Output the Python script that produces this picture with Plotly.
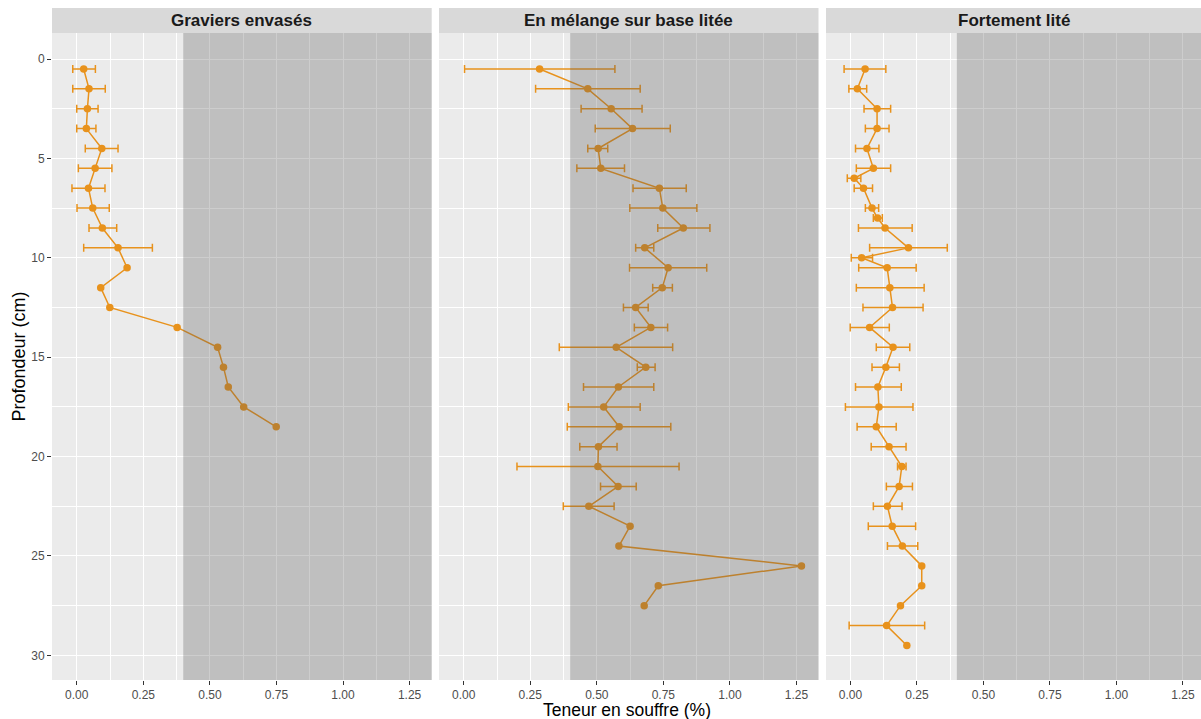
import plotly.graph_objects as go

panels = ["Graviers envasés", "En mélange sur base litée", "Fortement lité"]

depth_p1 = [0.5, 1.5, 2.5, 3.5, 4.5, 5.5, 6.5, 7.5, 8.5, 9.5, 10.5, 11.5, 12.5, 13.5, 14.5, 15.5, 16.5, 17.5, 18.5]
sulfur_p1 = [0.026, 0.046, 0.040, 0.036, 0.094, 0.069, 0.044, 0.060, 0.096, 0.155, 0.189, 0.090, 0.124, 0.377, 0.529, 0.551, 0.569, 0.627, 0.749]
low_p1 = [-0.015, -0.015, 0.0, 0.0, 0.032, 0.006, -0.018, 0.001, 0.046, 0.026, None, None, None, None, None, None, None, None, None]
high_p1 = [0.070, 0.107, 0.080, 0.072, 0.155, 0.132, 0.106, 0.122, 0.150, 0.284, None, None, None, None, None, None, None, None, None]

depth_p2 = [0.5, 1.5, 2.5, 3.5, 4.5, 5.5, 6.5, 7.5, 8.5, 9.5, 10.5, 11.5, 12.5, 13.5, 14.5, 15.5, 16.5, 17.5, 18.5, 19.5, 20.5, 21.5, 22.5, 23.5, 24.5, 25.5, 26.5, 27.5]
sulfur_p2 = [0.285, 0.466, 0.554, 0.634, 0.505, 0.515, 0.735, 0.748, 0.825, 0.680, 0.768, 0.746, 0.646, 0.703, 0.573, 0.684, 0.581, 0.526, 0.584, 0.506, 0.504, 0.580, 0.470, 0.625, 0.583, 1.269, 0.731, 0.678]
low_p2 = [0.003, 0.270, 0.441, 0.494, 0.466, 0.425, 0.636, 0.624, 0.729, 0.646, 0.623, 0.710, 0.600, 0.641, 0.359, 0.652, 0.450, 0.393, 0.389, 0.436, 0.200, 0.514, 0.374, None, None, None, None, None]
high_p2 = [0.568, 0.663, 0.670, 0.776, 0.541, 0.604, 0.836, 0.876, 0.925, 0.714, 0.913, 0.784, 0.693, 0.766, 0.785, 0.719, 0.714, 0.663, 0.778, 0.576, 0.809, 0.648, 0.565, None, None, None, None, None]

depth_p3 = [0.5, 1.5, 2.5, 3.5, 4.5, 5.5, 6.0, 6.5, 7.5, 8.0, 8.5, 9.5, 10.0, 10.5, 11.5, 12.5, 13.5, 14.5, 15.5, 16.5, 17.5, 18.5, 19.5, 20.5, 21.5, 22.5, 23.5, 24.5, 25.5, 26.5, 27.5, 28.5, 29.5]
sulfur_p3 = [0.055, 0.026, 0.100, 0.100, 0.062, 0.086, 0.014, 0.049, 0.081, 0.102, 0.130, 0.218, 0.042, 0.138, 0.148, 0.158, 0.072, 0.160, 0.133, 0.103, 0.107, 0.097, 0.145, 0.193, 0.183, 0.139, 0.157, 0.195, 0.268, 0.268, 0.188, 0.136, 0.212]
low_p3 = [-0.024, -0.006, 0.051, 0.056, 0.019, 0.022, -0.012, 0.014, 0.056, 0.086, 0.030, 0.072, 0.003, 0.031, 0.022, 0.047, -0.001, 0.097, 0.081, 0.019, -0.019, 0.025, 0.078, 0.177, 0.135, 0.086, 0.067, 0.139, None, None, None, -0.005, None]
high_p3 = [0.133, 0.061, 0.151, 0.145, 0.107, 0.151, 0.039, 0.083, 0.106, 0.120, 0.232, 0.364, 0.083, 0.247, 0.277, 0.273, 0.146, 0.223, 0.184, 0.191, 0.235, 0.172, 0.209, 0.209, 0.233, 0.194, 0.245, 0.253, None, None, None, 0.279, None]

x_ticks = [0.0, 0.25, 0.5, 0.75, 1.0, 1.25]
y_ticks = [0, 5, 10, 15, 20, 25, 30]
threshold = 0.4

series = [
    (depth_p1, sulfur_p1, low_p1, high_p1),
    (depth_p2, sulfur_p2, low_p2, high_p2),
    (depth_p3, sulfur_p3, low_p3, high_p3),
]

ORANGE = "#E8921C"
W, H = 1201, 719
ML, MR, MT, MB = 52, 0, 33, 39
PW = W - ML - MR
PH = H - MT - MB
def fx(px):
    return (px - ML) / PW

domains = [[fx(52), fx(431.7)], [fx(439), fx(818.5)], [fx(826), 1.0]]
xranges = [[-0.093, 1.333], [-0.093, 1.333], [-0.092, 1.318]]

fig = go.Figure()

for i, (d, s, lo, hi) in enumerate(series):
    xa = "x" if i == 0 else f"x{i+1}"
    ya = "y" if i == 0 else f"y{i+1}"
    ed, es, eplus, eminus = [], [], [], []
    for dd, ss, l, h in zip(d, s, lo, hi):
        if l is not None and h is not None:
            ed.append(dd); es.append(ss)
            eplus.append(h - ss); eminus.append(ss - l)
    fig.add_trace(go.Scatter(
        x=es, y=ed, mode="markers", xaxis=xa, yaxis=ya,
        marker=dict(size=1, color="rgba(0,0,0,0)"),
        error_x=dict(type="data", symmetric=False, array=eplus, arrayminus=eminus,
                     color=ORANGE, thickness=1.5, width=4),
        showlegend=False, hoverinfo="skip"))
    fig.add_trace(go.Scatter(
        x=s, y=d, mode="lines+markers", xaxis=xa, yaxis=ya,
        line=dict(color=ORANGE, width=1.5),
        marker=dict(color=ORANGE, size=7.5),
        showlegend=False))

    axis_x = dict(domain=domains[i], range=xranges[i], tickvals=x_ticks, tickformat=".2f",
                  showgrid=True, gridcolor="white", gridwidth=1.1, zeroline=False,
                  ticks="outside", ticklen=3.5, tickcolor="#333333", tickwidth=1,
                  tickfont=dict(family="Liberation Sans, Arial", size=12, color="#4D4D4D"),
                  minor=dict(dtick=0.125, tick0=0.125, showgrid=True, gridcolor="white", gridwidth=0.5, ticks=""),
                  anchor=ya, showline=False)
    axis_y = dict(domain=[0, 1], range=[31.24, -1.31], tickvals=y_ticks,
                  showgrid=True, gridcolor="white", gridwidth=1.1, zeroline=False,
                  minor=dict(dtick=2.5, tick0=2.5, showgrid=True, gridcolor="white", gridwidth=0.5, ticks=""),
                  anchor=xa, showline=False,
                  ticks="outside" if i == 0 else "", ticklen=4, tickcolor="#333333",
                  showticklabels=(i == 0),
                  tickfont=dict(family="Liberation Sans, Arial", size=12, color="#4D4D4D"))
    if i == 0:
        fig.update_layout(xaxis=axis_x, yaxis=axis_y)
    else:
        fig.update_layout(**{f"xaxis{i+1}": axis_x, f"yaxis{i+1}": axis_y})

    # shaded region above the threshold
    fig.add_shape(type="rect", xref=xa, yref=f"{ya} domain", x0=threshold, x1=2.0, y0=0, y1=1,
                  fillcolor="rgba(89,89,89,0.3)", line=dict(width=0), layer="above")
    # strip header
    fig.add_shape(type="rect", xref="paper", yref="paper", x0=domains[i][0], x1=domains[i][1],
                  y0=1.0, y1=1.0 + 25 / PH, fillcolor="#D9D9D9", line=dict(width=0))
    fig.add_annotation(xref="paper", yref="paper", x=(domains[i][0] + domains[i][1]) / 2,
                       y=1.0 + 12.5 / PH, text=f"<b>{panels[i]}</b>", showarrow=False,
                       xanchor="center", yanchor="middle",
                       font=dict(family="Liberation Sans, Arial", size=17, color="#1A1A1A"))

fig.add_annotation(xref="paper", yref="paper", x=(fx(52) + 1.0) / 2, y=-30 / PH,
                   text="Teneur en souffre (%)", showarrow=False, xanchor="center", yanchor="middle",
                   font=dict(family="Liberation Sans, Arial", size=17.5, color="black"))
fig.add_annotation(xref="paper", yref="paper", x=-34 / PW, y=0.5,
                   text="Profondeur (cm)", showarrow=False, textangle=-90,
                   xanchor="center", yanchor="middle",
                   font=dict(family="Liberation Sans, Arial", size=18, color="black"))

fig.update_layout(width=W, height=H, margin=dict(l=ML, r=MR, t=MT, b=MB),
                  plot_bgcolor="#EBEBEB", paper_bgcolor="white", showlegend=False)

fig.write_html("out.html", config={"displayModeBar": False},
               post_script="document.body.style.margin='0';document.body.style.overflow='hidden';")
